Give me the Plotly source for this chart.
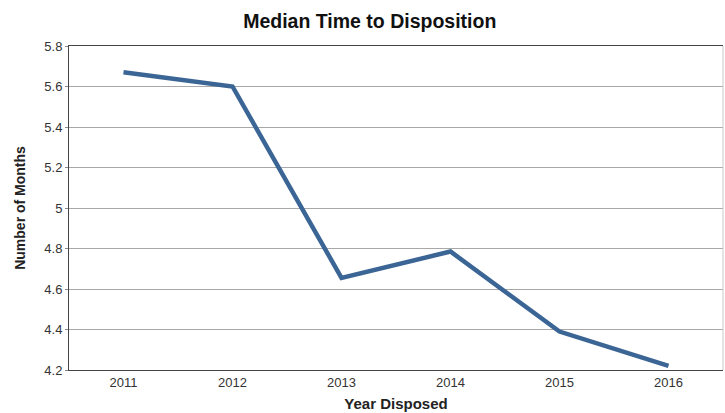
import plotly.graph_objects as go

years = ["2011", "2012", "2013", "2014", "2015", "2016"]
median_months = [5.67, 5.60, 4.655, 4.785, 4.39, 4.22]
y_ticks = [4.2, 4.4, 4.6, 4.8, 5.0, 5.2, 5.4, 5.6, 5.8]
y_tick_text = ["4.2", "4.4", "4.6", "4.8", "5", "5.2", "5.4", "5.6", "5.8"]

fig = go.Figure()
fig.add_trace(go.Scatter(
    x=years, y=median_months, mode="lines",
    line=dict(color="#3a6595", width=4.5),
    hoverinfo="x+y",
))

font_family = "Liberation Sans, Arial, sans-serif"

fig.update_layout(
    width=725, height=413,
    margin=dict(l=69, r=2, t=46, b=43),
    paper_bgcolor="white", plot_bgcolor="white",
    showlegend=False,
    font=dict(family=font_family, color="#333333", size=13),
    title=dict(text="<b>Median Time to Disposition</b>", x=0.51, xanchor="center",
               y=0.948, yanchor="middle", font=dict(size=19.5, color="#111111")),
    xaxis=dict(
        type="category", showgrid=False, showline=True, linecolor="#444444",
        linewidth=1, mirror=True, ticks="", tickfont=dict(size=13, color="#333333"),
        title=dict(text="<b>Year Disposed</b>", standoff=9, font=dict(size=15, color="#222222")),
        range=[-0.5, 5.5],
    ),
    yaxis=dict(
        range=[4.2, 5.8], tickvals=y_ticks, ticktext=y_tick_text,
        showgrid=True, gridcolor="#a8a8a8", gridwidth=1,
        showline=True, linecolor="#444444", linewidth=1,
        ticks="outside", ticklen=3, tickcolor="#888888",
        tickfont=dict(size=13, color="#333333"),
        title=dict(text="<b>Number of Months</b>", standoff=15, font=dict(size=14, color="#222222")),
        zeroline=False,
    ),
    shapes=[dict(type="line", xref="paper", yref="paper", x0=1, x1=1, y0=0, y1=1,
                 line=dict(color="#c8c8c8", width=1))],
)

fig.write_html("out.html")
